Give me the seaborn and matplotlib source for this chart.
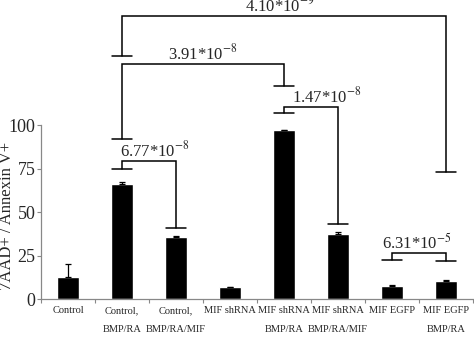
import numpy as np
import pandas as pd
import seaborn as sns
import matplotlib
matplotlib.use("Agg")
import matplotlib.pyplot as plt

# Data
categories = ["Control", "Control,\nBMP/RA", "Control,\nBMP/RA/MIF", "MIF shRNA",
              "MIF shRNA\nBMP/RA", "MIF shRNA\nBMP/RA/MIF", "MIF EGFP", "MIF EGFP\nBMP/RA"]
values = [12.6, 66.0, 35.6, 7.0, 97.1, 37.3, 7.8, 10.5]
errors = [7.8, 1.4, 0.5, 0.2, 0.3, 1.1, 0.3, 0.5]

# p-value brackets: (left bar, right bar, bracket top, left foot, right foot)
p_labels = [r"6.77*10$^{-8}$", r"3.91*10$^{-8}$", r"1.47*10$^{-8}$",
            r"6.31*10$^{-5}$", r"4.10*10$^{-9}$"]
p_left = [1, 1, 4, 6, 1]
p_right = [2, 4, 5, 7, 7]
p_top = [79.3, 135.0, 110.5, 26.6, 162.7]
p_foot_left = [74.8, 92.1, 106.7, 22.5, 139.8]
p_foot_right = [40.7, 122.5, 43.0, 22.0, 72.9]
p_text_x = [1.6, 2.5, 4.8, 6.45, 3.93]

sns.set_style("white")
plt.rcParams["font.family"] = ["Liberation Serif", "DejaVu Serif"]
plt.rcParams["mathtext.fontset"] = "stix"

df = pd.DataFrame({"group": categories, "value": values})

fig = plt.figure(figsize=(4.74, 3.4), dpi=100)
ax = fig.add_axes([41 / 474, 40.7 / 340, 432 / 474, 174.3 / 340])

sns.barplot(data=df, x="group", y="value", color="black", width=0.41,
            saturation=1, ax=ax, errorbar=None)
ax.errorbar(range(len(values)), values, yerr=[np.zeros(len(errors)), errors],
            fmt="none", ecolor="black", elinewidth=0.9, capsize=2.5, capthick=0.9)

ax.set_xlim(-0.5, 7.5)
ax.set_ylim(0, 100)
ax.set_yticks([0, 25, 50, 75, 100])
ax.tick_params(axis="y", labelsize=13, length=3, width=0.8, color="#888888",
               direction="out", pad=1, left=True)
ax.set_xticks(np.arange(-0.5, 8, 1), minor=True)
ax.tick_params(axis="x", which="major", length=0, labelsize=7.5, pad=5)
ax.tick_params(axis="x", which="minor", length=3, width=0.8, color="#888888",
               direction="out", bottom=True)
for lab in ax.get_xticklabels():
    lab.set_linespacing(2.4)
    lab.set_verticalalignment("top")

ax.set_xlabel("")
ax.set_ylabel("7AAD+ / Annexin V+", fontsize=12)
ax.yaxis.set_label_coords(-0.06, 0.478)

for side in ["top", "right"]:
    ax.spines[side].set_visible(False)
for side in ["left", "bottom"]:
    ax.spines[side].set_color("#888888")
    ax.spines[side].set_linewidth(0.9)

# significance brackets
cap = 0.19
for lab, x1, x2, top, f1, f2, tx in zip(p_labels, p_left, p_right, p_top,
                                        p_foot_left, p_foot_right, p_text_x):
    ax.plot([x1, x1, x2, x2], [f1, top, top, f2], color="black", lw=1.1,
            clip_on=False, solid_joinstyle="miter")
    ax.plot([x1 - cap, x1 + cap], [f1, f1], color="black", lw=1.1, clip_on=False)
    ax.plot([x2 - cap, x2 + cap], [f2, f2], color="black", lw=1.1, clip_on=False)
    ax.text(tx, top + 2.4, lab, ha="center", va="baseline", fontsize=12,
            clip_on=False)

fig.savefig("out.png", dpi=100)
